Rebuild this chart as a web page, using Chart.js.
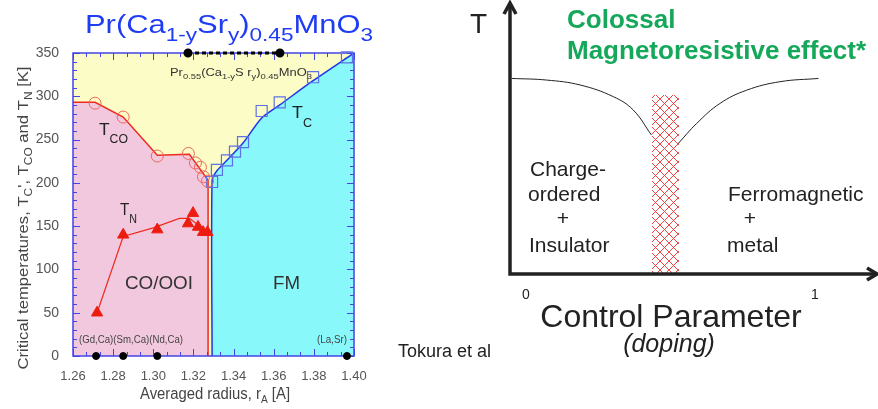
<!DOCTYPE html>
<html>
<head>
<meta charset="utf-8">
<script src="https://cdn.jsdelivr.net/npm/chart.js@4.4.1/dist/chart.umd.min.js"></script>
<style>
  body { margin: 0; background: #fff; width: 878px; height: 409px; position: relative; overflow: hidden; }
  #phase { position: absolute; left: 0; top: 0; }
  #cmr { position: absolute; left: 390px; top: 0; }
</style>
</head>
<body>
<canvas id="phase" width="390" height="409"></canvas>
<canvas id="cmr" width="488" height="409"></canvas>
<script>
const FONT = "'Liberation Sans', Arial, sans-serif";

// left panel: Pr(Ca1-ySry)0.45MnO3 phase diagram
const radiusTicks = [1.26, 1.28, 1.30, 1.32, 1.34, 1.36, 1.38, 1.40];
const tempTicks = [0, 50, 100, 150, 200, 250, 300, 350];

const tcoLineR = [1.26, 1.271, 1.285, 1.302, 1.318, 1.3273, 1.3273];
const tcoLineT = [293, 293, 276, 232, 233, 203, 0];
const tcoPtsR = [1.271, 1.285, 1.302, 1.3175, 1.321, 1.3235, 1.325, 1.327];
const tcoPtsT = [292, 276, 231, 234, 223, 218, 207, 202];

const tcLineR = [1.3293, 1.3293, 1.3317, 1.3367, 1.3447, 1.354, 1.363, 1.3796, 1.40];
const tcLineT = [0, 203, 214, 226, 246, 275, 290, 318, 350];
const tcPtsR = [1.3293, 1.3317, 1.3367, 1.3407, 1.3447, 1.354, 1.363, 1.3796, 1.3965];
const tcPtsT = [201, 215, 226, 236, 247, 283, 293, 322, 345];

const tnLineR = [1.272, 1.285, 1.30, 1.313, 1.318, 1.327];
const tnLineT = [50, 138, 148, 159, 159, 143];
const tnPtsR = [1.272, 1.285, 1.302, 1.3173, 1.3198, 1.3223, 1.3248, 1.327];
const tnPtsT = [50, 140, 146, 153, 165, 149, 143, 143];

const seriesR = [1.3173, 1.3631];   // Pr0.55(Ca1-ySry)0.45MnO3 range
const seriesT = [350, 350];
const refR = [1.2715, 1.285, 1.302, 1.3965]; // (Gd,Ca) (Sm,Ca) (Nd,Ca) (La,Sr)
const refT = [0, 0, 0, 0];

// right panel: schematic
const dopingTicks = [0, 1];
const coX = [-0.0495, 0.0716, 0.187, 0.302, 0.371, 0.434];
const coY = [0.719, 0.713, 0.695, 0.652, 0.603, 0.511];
const fmX = [0.527, 0.591, 0.671, 0.764, 0.879, 1.012];
const fmY = [0.480, 0.554, 0.627, 0.676, 0.707, 0.719];
const cmrX = [0.436, 0.529];
const cmrY = [0.658, 0.658];

function pts(xs, ys) {
  return xs.map((x, i) => ({ x: x, y: ys[i] }));
}

// text with sub/superscript parts: [text, size, dy]
function richText(ctx, x, y, parts, o) {
  o = o || {};
  ctx.save();
  ctx.fillStyle = o.color || '#333';
  ctx.textBaseline = 'alphabetic';
  ctx.textAlign = 'left';
  const f = p => (o.style ? o.style + ' ' : '') + p[1] + 'px ' + FONT;
  let w = 0;
  parts.forEach(p => { ctx.font = f(p); w += ctx.measureText(p[0]).width; });
  const sx = o.width ? o.width / w : 1;
  ctx.translate(x, y);
  if (o.rotate) ctx.rotate(-Math.PI / 2);
  ctx.scale(sx, 1);
  let cx = o.align === 'center' ? -w / 2 : 0;
  parts.forEach(p => {
    ctx.font = f(p);
    ctx.fillText(p[0], cx, p[2] || 0);
    cx += ctx.measureText(p[0]).width;
  });
  ctx.restore();
}

const frame = {
  id: 'frame',
  beforeDraw(c) {
    const a = c.chartArea, ctx = c.ctx;
    ctx.save();
    ctx.fillStyle = '#fcfcc6';
    ctx.fillRect(a.left, a.top, a.width, a.height);
    ctx.restore();
  },
  // frame and inner ticks go on top of the filled regions, under the marks
  afterDatasetDraw(c, args) {
    if (args.index !== 0) return;
    const a = c.chartArea, ctx = c.ctx, xs = c.scales.x, ys = c.scales.y;
    ctx.save();
    ctx.strokeStyle = '#4444e6';
    ctx.lineWidth = 1;
    ctx.beginPath();
    for (let v = 0; v <= 350; v += 10) {
      const py = Math.round(ys.getPixelForValue(v)) + 0.5;
      const len = v % 50 === 0 ? 7 : 4;
      ctx.moveTo(a.left, py); ctx.lineTo(a.left + len, py);
      ctx.moveTo(a.right, py); ctx.lineTo(a.right - len, py);
    }
    for (let i = 0; i <= 21; i++) {
      const v = 1.26 + i * 0.02 / 3;
      const px = Math.round(xs.getPixelForValue(v)) + 0.5;
      const len = i % 3 === 0 ? 7 : 4;
      ctx.moveTo(px, a.top); ctx.lineTo(px, a.top + len);
      ctx.moveTo(px, a.bottom); ctx.lineTo(px, a.bottom - len);
    }
    ctx.stroke();
    ctx.lineWidth = 1.5;
    ctx.strokeRect(a.left, a.top, a.width, a.height);
    ctx.restore();
  },
  afterDraw(c) {
    const ctx = c.ctx;
    richText(ctx, 85, 33, [['Pr(Ca', 26], ['1-y', 19, 8], ['Sr', 26], ['y', 19, 8], [')', 26], ['0.45', 19, 8], ['MnO', 26], ['3', 19, 8]],
      { color: '#1f3cf5', width: 288 });
    richText(ctx, 170, 76, [['Pr', 11], ['0.55', 8, 3], ['(Ca', 11], ['1-y', 8, 3], ['S r', 11], ['y', 8, 3], [')', 11], ['0.45', 8, 3], ['MnO', 11], ['3', 8, 3]],
      { color: '#333', width: 142 });
    richText(ctx, 99, 135, [['T', 17], ['CO', 12, 8]], { color: '#222', width: 29 });
    richText(ctx, 120, 215, [['T', 17], ['N', 12, 8]], { color: '#222', width: 17 });
    richText(ctx, 292, 118, [['T', 17], ['C', 12, 9]], { color: '#222', width: 20 });
    richText(ctx, 125, 289, [['CO/OOI', 18]], { color: '#333', width: 68 });
    richText(ctx, 273, 289, [['FM', 18]], { color: '#333', width: 27 });
    richText(ctx, 79, 343, [['(Gd,Ca)(Sm,Ca)(Nd,Ca)', 10]], { color: '#444', width: 104 });
    richText(ctx, 317, 343, [['(La,Sr)', 10]], { color: '#444', width: 30 });
    richText(ctx, 215, 399, [['Averaged radius, r', 16], ['A', 11, 4], [' [A]', 16]], { color: '#444', width: 150, align: 'center' });
    richText(ctx, 28, 218, [['Critical temperatures, T', 14], ['C', 10, 4], ['\', T', 14], ['CO', 10, 4], [' and T', 14], ['N', 10, 4], [' [K]', 14]],
      { color: '#444', width: 303, align: 'center', rotate: true });
  }
};

new Chart(document.getElementById('phase'), {
  type: 'scatter',
  data: {
    datasets: [
      { data: pts(tcoLineR, tcoLineT), showLine: true, fill: 'origin', backgroundColor: '#f2c8de',
        borderColor: '#ee2a1e', borderWidth: 1.5, pointRadius: 0, tension: 0, order: 6 },
      { data: pts(tcLineR, tcLineT), showLine: true, fill: 'origin', backgroundColor: '#88f8fb',
        borderColor: '#2233ee', borderWidth: 1.5, pointRadius: 0, tension: 0.25, order: 7 },
      { data: pts(tnLineR, tnLineT), showLine: true, fill: false, borderColor: '#ee2a1e',
        borderWidth: 1.2, pointRadius: 0, tension: 0, order: 4 },
      { data: pts(tcoPtsR, tcoPtsT), pointStyle: 'circle', pointRadius: 6, pointBorderWidth: 1,
        pointBorderColor: '#f0665c', pointBackgroundColor: 'rgba(0,0,0,0)', order: 1 },
      { data: pts(tcPtsR, tcPtsT), pointStyle: 'rect', pointRadius: 7.8, pointBorderWidth: 1.2,
        pointBorderColor: '#5c72e4', pointBackgroundColor: 'rgba(0,0,0,0)', clip: false, order: 1 },
      { data: pts(tnPtsR, tnPtsT), pointStyle: 'triangle', pointRadius: 6.5, pointBorderWidth: 1,
        pointBorderColor: '#ee1c10', pointBackgroundColor: '#ee1c10', order: 1 },
      { data: pts(seriesR, seriesT), showLine: true, borderColor: '#000', borderWidth: 3, borderDash: [4, 3],
        pointRadius: 3, pointBackgroundColor: '#000', pointBorderColor: '#000', clip: false, order: 0 },
      { data: pts(refR, refT), pointRadius: 3.5, pointBackgroundColor: '#000', pointBorderColor: '#000',
        clip: false, order: 0 }
    ]
  },
  options: {
    responsive: false,
    animation: false,
    devicePixelRatio: 1,
    layout: { padding: { top: 53, right: 36, left: 0, bottom: 0 } },
    plugins: { legend: { display: false }, tooltip: { enabled: false } },
    scales: {
      x: {
        type: 'linear', min: 1.26, max: 1.40,
        grid: { display: false }, border: { display: false },
        afterBuildTicks: s => { s.ticks = radiusTicks.map(v => ({ value: v })); },
        ticks: { color: '#555', font: { size: 13, family: FONT }, padding: 5, maxRotation: 0, autoSkip: false,
          callback: v => v.toFixed(2) },
        afterFit: s => { s.height = 53; }
      },
      y: {
        min: 0, max: 350,
        grid: { display: false }, border: { display: false },
        afterBuildTicks: s => { s.ticks = tempTicks.map(v => ({ value: v })); },
        ticks: { color: '#555', font: { size: 14, family: FONT }, padding: 6 },
        afterFit: s => { s.width = 73; }
      }
    }
  },
  plugins: [frame]
});

function hatch() {
  const p = document.createElement('canvas');
  p.width = 9; p.height = 9;
  const g = p.getContext('2d');
  g.strokeStyle = '#f04545';
  g.lineWidth = 1;
  g.beginPath();
  g.moveTo(0, 0); g.lineTo(9, 9);
  g.moveTo(9, 0); g.lineTo(0, 9);
  g.stroke();
  return g.createPattern(p, 'repeat');
}

const schematic = {
  id: 'schematic',
  afterDraw(c) {
    const a = c.chartArea, ctx = c.ctx;
    const x0 = a.left, y0 = a.bottom;
    ctx.save();
    ctx.strokeStyle = '#222';
    ctx.lineWidth = 3.5;
    ctx.lineJoin = 'miter';
    ctx.beginPath();
    ctx.moveTo(x0, y0 + 1.75); ctx.lineTo(x0, a.top + 1);
    ctx.moveTo(x0 - 1.75, y0); ctx.lineTo(a.right - 1, y0);
    ctx.stroke();
    ctx.beginPath();
    ctx.moveTo(x0 - 6, a.top + 12); ctx.lineTo(x0, a.top + 1); ctx.lineTo(x0 + 6, a.top + 12);
    ctx.moveTo(a.right - 11, y0 - 6); ctx.lineTo(a.right - 1, y0); ctx.lineTo(a.right - 11, y0 + 6);
    ctx.stroke();
    ctx.restore();

    richText(ctx, 80, 33, [['T', 28]], { color: '#222' });
    richText(ctx, 177, 28, [['Colossal', 26]], { color: '#16a85a', style: 'bold' });
    richText(ctx, 177, 59, [['Magnetoresistive effect*', 26]], { color: '#16a85a', style: 'bold' });
    richText(ctx, 140, 176, [['Charge-', 21]], { color: '#222' });
    richText(ctx, 138, 201, [['ordered', 21]], { color: '#222' });
    richText(ctx, 173, 225, [['+', 21]], { color: '#222', align: 'center' });
    richText(ctx, 139, 252, [['Insulator', 21]], { color: '#222' });
    richText(ctx, 338, 201, [['Ferromagnetic', 21]], { color: '#222' });
    richText(ctx, 360, 225, [['+', 21]], { color: '#222', align: 'center' });
    richText(ctx, 337, 252, [['metal', 21]], { color: '#222' });
    richText(ctx, 281, 327, [['Control Parameter', 32]], { color: '#222', align: 'center' });
    richText(ctx, 279, 352, [['(doping)', 25]], { color: '#222', align: 'center', style: 'italic' });
    richText(ctx, 8, 357, [['Tokura et al', 18]], { color: '#222' });
  }
};

new Chart(document.getElementById('cmr'), {
  type: 'scatter',
  data: {
    datasets: [
      { data: pts(coX, coY), showLine: true, borderColor: '#222', borderWidth: 1, pointRadius: 0, tension: 0.4 },
      { data: pts(fmX, fmY), showLine: true, borderColor: '#222', borderWidth: 1, pointRadius: 0, tension: 0.4 },
      { data: pts(cmrX, cmrY), showLine: true, fill: 'origin', backgroundColor: hatch(),
        borderColor: 'rgba(0,0,0,0)', borderWidth: 0, pointRadius: 0 }
    ]
  },
  options: {
    responsive: false,
    animation: false,
    devicePixelRatio: 1,
    layout: { padding: { left: 120, top: 2, right: 0, bottom: 0 } },
    plugins: { legend: { display: false }, tooltip: { enabled: false } },
    scales: {
      x: {
        type: 'linear', min: -0.0554, max: 1.218,
        grid: { display: false }, border: { display: false },
        afterBuildTicks: s => { s.ticks = dopingTicks.map(v => ({ value: v })); },
        ticks: { color: '#222', font: { size: 14, family: FONT }, padding: 5, maxRotation: 0, autoSkip: false,
          callback: v => String(v) },
        afterFit: s => { s.height = 135; }
      },
      y: { display: false, min: 0, max: 1 }
    }
  },
  plugins: [schematic]
});
</script>
</body>
</html>
